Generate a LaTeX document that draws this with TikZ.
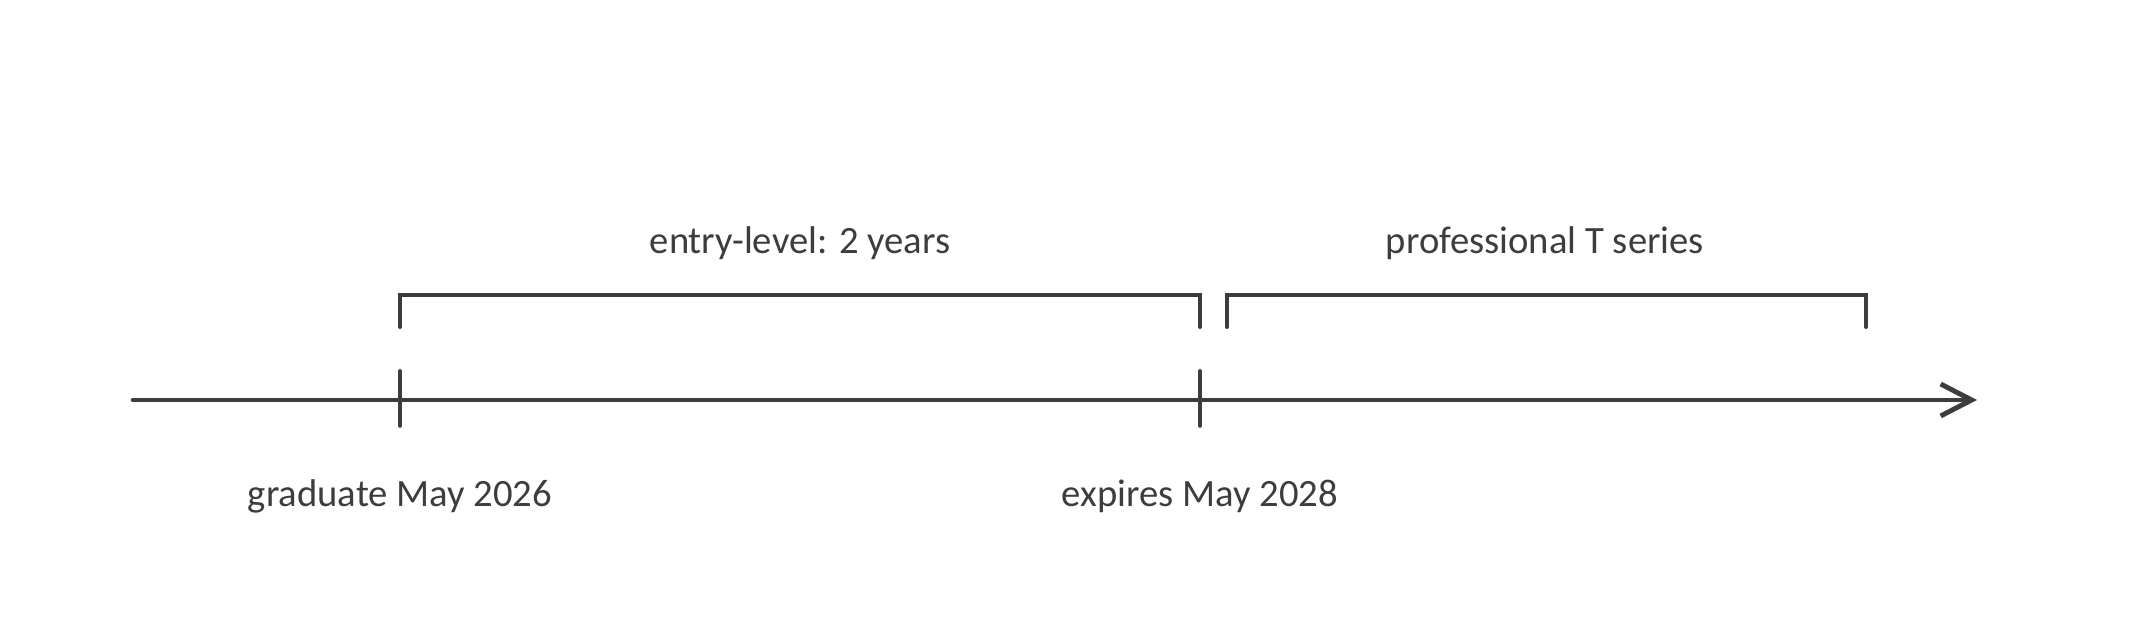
\documentclass[tikz,border=0pt]{standalone}
\usepackage{fontspec}
\setmainfont{Carlito}
\usetikzlibrary{arrows.meta}
\definecolor{ink}{HTML}{3D3D40}
\tikzset{
  axisline/.style={draw=ink, line width=2.6pt, line cap=round},
  tickline/.style={draw=ink, line width=2.1pt, line cap=round},
  bracketline/.style={draw=ink, line width=2.3pt, line cap=round, line join=miter},
  label/.style={text=ink, font=\fontsize{22}{25}\selectfont, inner sep=0pt}
}
\begin{document}
\begin{tikzpicture}
    \useasboundingbox (0,0) rectangle (42.66,12.8);
    % Time axis
    \coordinate (start) at (2.66,4.8);
    \coordinate (end) at (39.54,4.8);
    \draw [axisline, -{Straight Barb[length=0.62cm, width=0.64cm, line width=2.8pt]}] (start) -- (end);
    % Ticks on the axis
    \coordinate (grad top) at (8,5.38);
    \coordinate (grad bot) at (8,4.28);
    \coordinate (exp top) at (24,5.38);
    \coordinate (exp bot) at (24,4.28);
    \draw [tickline] (grad top) -- (grad bot);
    \draw [tickline] (exp top) -- (exp bot);
    % Entry-level bracket
    \coordinate (entry a) at (8,6.26);
    \coordinate (entry b) at (24,6.26);
    \draw [bracketline] (entry a) -- ++(0,0.64) -| (entry b);
    \node [label] (entry) at (16,7.94) {entry-level: 2 years};
    % Professional bracket
    \coordinate (prof a) at (24.54,6.26);
    \coordinate (prof b) at (37.32,6.26);
    \draw [bracketline] (prof a) -- ++(0,0.64) -| (prof b);
    \node [label] (prof) at (30.9,7.94) {professional T series};
    % Dates below the axis
    \node [label] (grad) at (8,2.88) {graduate May 2026};
    \node [label] (exp) at (24,2.88) {expires May 2028};
\end{tikzpicture}
\end{document}
